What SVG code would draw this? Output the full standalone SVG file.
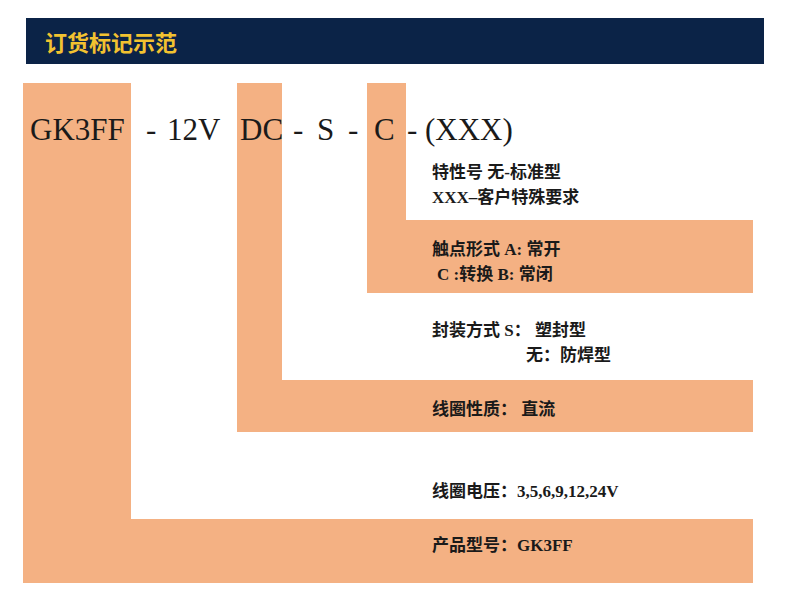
<svg xmlns="http://www.w3.org/2000/svg" width="790" height="600" viewBox="0 0 790 600">
<style>
.b{fill:#f4b183}
.m{font-family:"Liberation Serif","Noto Sans CJK SC",serif;font-size:31px;fill:#1a1a1a}
.l{font-family:"Liberation Serif","Noto Sans CJK SC",serif;font-size:17px;font-weight:bold;fill:#1a1a1a}
</style>
<rect width="790" height="600" fill="#fff"/>
<g id="header"><rect x="26" y="18" width="738" height="46" fill="#0b2347"/>
<text x="45" y="51" font-family="'Noto Sans CJK SC',sans-serif" font-size="22" font-weight="bold" fill="#f2c230">订货标记示范</text></g>
<g id="shapes">
<rect class="b" x="23" y="83" width="108" height="500"/>
<rect class="b" x="23" y="519" width="730" height="64"/>
<rect class="b" x="237" y="83" width="45" height="349"/>
<rect class="b" x="237" y="380" width="516" height="52"/>
<rect class="b" x="367" y="83" width="39" height="210"/>
<rect class="b" x="367" y="220" width="386" height="73"/>
</g>
<g id="code" class="m">
<text x="30" y="140">GK3FF</text>
<text x="146" y="140">-</text>
<text x="167" y="140">12V</text>
<text x="240" y="140">DC</text>
<text x="293" y="140">-</text>
<text x="317" y="140">S</text>
<text x="348" y="140">-</text>
<text x="374" y="140">C</text>
<text x="407" y="140">-</text>
<text x="425" y="140">(XXX)</text>
</g>
<g id="labels" class="l">
<text x="432" y="178">特性号 无-标准型</text>
<text x="432" y="203">XXX–客户特殊要求</text>
<text x="432" y="255">触点形式 A:  常开</text>
<text x="437" y="280">C :转换    B:  常闭</text>
<text x="432" y="336">封装方式  S：  塑封型</text>
<text x="526" y="361">无：防焊型</text>
<text x="432" y="415">线圈性质：  直流</text>
<text x="432" y="497">线圈电压：3,5,6,9,12,24V</text>
<text x="432" y="551">产品型号：GK3FF</text>
</g>
</svg>
